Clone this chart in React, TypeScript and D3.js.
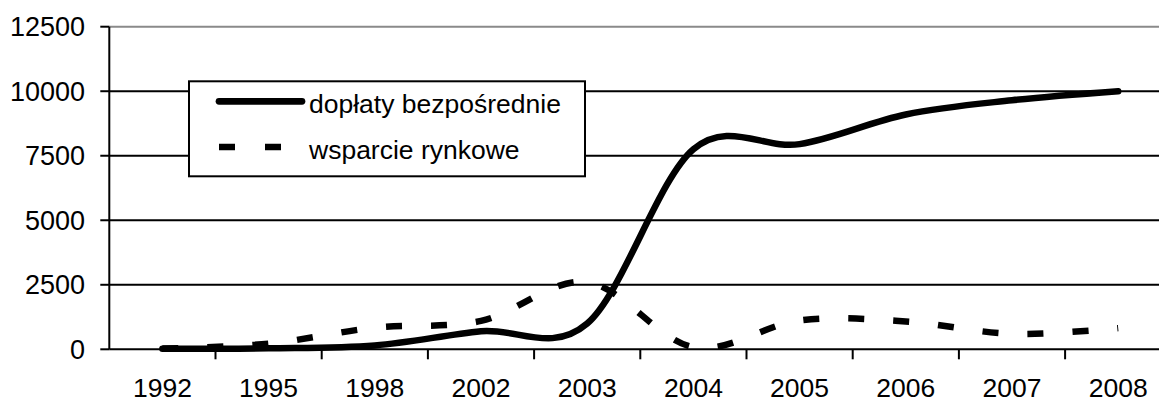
import React, { useEffect, useRef } from 'react';
import * as d3 from 'd3';

const years = ['1992', '1995', '1998', '2002', '2003', '2004', '2005', '2006', '2007', '2008'];
const doplaty = [20, 40, 150, 700, 1000, 7750, 7950, 9100, 9650, 10000];
const wsparcie = [30, 220, 840, 1100, 2600, 80, 1120, 1080, 600, 820];
const yTicks = [0, 2500, 5000, 7500, 10000, 12500];

const FONT = '"Liberation Sans", Arial, sans-serif';

export default function App() {
  const ref = useRef<SVGSVGElement>(null);

  useEffect(() => {
    const svg = d3.select(ref.current);
    svg.selectAll('*').remove();

    const width = 1159, height = 403;
    const left = 109.3, bottom = 349.3, top = 26.7;
    const bandW = 106.2;

    const x = d3.scaleBand().domain(years).range([left, left + bandW * years.length]).padding(0);
    const y = d3.scaleLinear().domain([0, 12500]).range([bottom, top]);

    svg.append('rect').attr('width', width).attr('height', height).attr('fill', '#fff');

    // horizontal grid lines
    svg.selectAll('.grid')
      .data(yTicks.filter(d => d > 0))
      .enter().append('line')
      .attr('x1', left).attr('x2', width)
      .attr('y1', d => y(d)).attr('y2', d => y(d))
      .attr('stroke', d => d === 12500 ? '#8a8a8a' : '#000')
      .attr('stroke-width', 2);

    // y axis
    svg.append('line')
      .attr('x1', left).attr('x2', left)
      .attr('y1', top).attr('y2', bottom)
      .attr('stroke', '#000').attr('stroke-width', 2);
    svg.selectAll('.ytick')
      .data(yTicks)
      .enter().append('line')
      .attr('x1', left - 9).attr('x2', left)
      .attr('y1', d => y(d)).attr('y2', d => y(d))
      .attr('stroke', '#000').attr('stroke-width', 2);
    svg.selectAll('.ylab')
      .data(yTicks)
      .enter().append('text')
      .attr('x', 85).attr('y', d => y(d) + 9.7)
      .attr('text-anchor', 'end')
      .attr('font-family', FONT).attr('font-size', 27)
      .attr('fill', '#000')
      .text(d => d);

    // x axis
    svg.append('line')
      .attr('x1', left).attr('x2', width)
      .attr('y1', bottom).attr('y2', bottom)
      .attr('stroke', '#000').attr('stroke-width', 2);
    const xTickPos = years.map(d => x(d) as number);
    svg.selectAll('.xtick')
      .data(xTickPos.slice(1))
      .enter().append('line')
      .attr('x1', d => d).attr('x2', d => d)
      .attr('y1', bottom).attr('y2', bottom + 10)
      .attr('stroke', '#000').attr('stroke-width', 2);
    svg.selectAll('.xlab')
      .data(years)
      .enter().append('text')
      .attr('x', d => (x(d) as number) + x.bandwidth() / 2)
      .attr('y', 397)
      .attr('text-anchor', 'middle')
      .attr('font-family', FONT).attr('font-size', 26.5)
      .attr('fill', '#000')
      .text(d => d);

    const line = d3.line<number>()
      .x((d, i) => (x(years[i]) as number) + x.bandwidth() / 2)
      .y(d => y(d))
      .curve(d3.curveCardinal.tension(0));

    svg.append('path')
      .attr('d', line(wsparcie))
      .attr('fill', 'none').attr('stroke', '#000')
      .attr('stroke-width', 6.5)
      .attr('stroke-dasharray', '16 29');

    svg.append('path')
      .attr('d', line(doplaty))
      .attr('fill', 'none').attr('stroke', '#000')
      .attr('stroke-width', 6.5)
      .attr('stroke-linecap', 'round');

    // legend
    const lg = svg.append('g');
    lg.append('rect')
      .attr('x', 189).attr('y', 81.3)
      .attr('width', 396).attr('height', 95)
      .attr('fill', '#fff').attr('stroke', '#000').attr('stroke-width', 2);
    lg.append('line')
      .attr('x1', 219).attr('x2', 302).attr('y1', 101.3).attr('y2', 101.3)
      .attr('stroke', '#000').attr('stroke-width', 6.7).attr('stroke-linecap', 'round');
    lg.append('line')
      .attr('x1', 219).attr('x2', 305).attr('y1', 147).attr('y2', 147)
      .attr('stroke', '#000').attr('stroke-width', 6.7).attr('stroke-dasharray', '16 30');
    lg.append('text')
      .attr('x', 309).attr('y', 113)
      .attr('font-family', FONT).attr('font-size', 26.5)
      .text('dopłaty bezpośrednie');
    lg.append('text')
      .attr('x', 309).attr('y', 159)
      .attr('font-family', FONT).attr('font-size', 26.5)
      .text('wsparcie rynkowe');
  }, []);

  return (
    <svg ref={ref} width={1159} height={403}
      style={{ position: 'absolute', left: 0, top: 0, display: 'block' }} />
  );
}
